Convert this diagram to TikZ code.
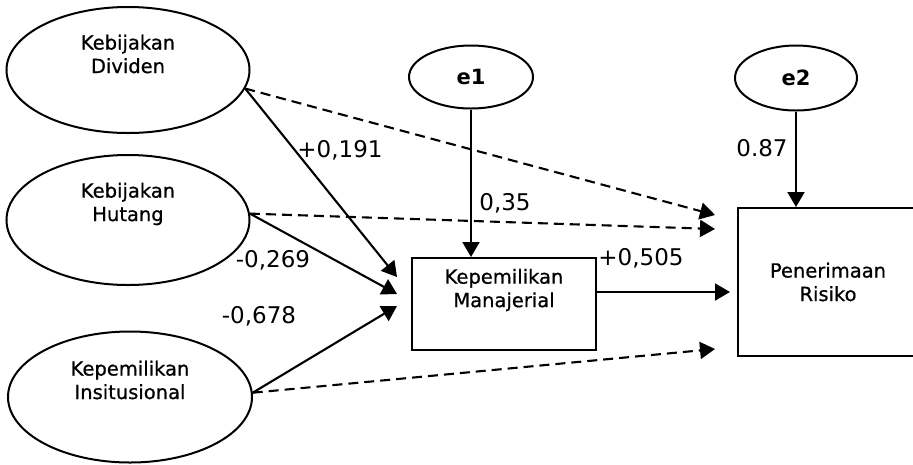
\documentclass[tikz,border=0pt]{standalone}
\usepackage{fontspec}
\setmainfont{DejaVu Sans}
\newfontfamily\lblfont{DejaVu Sans}[FakeBold=0.7,BoldFont={DejaVu Sans}]
\usetikzlibrary{arrows.meta,shapes.geometric,calc}
\begin{document}
\begin{tikzpicture}[x=1pt,y=-1pt,
  lat/.style={draw,ellipse,line width=2pt,inner sep=0pt},
  obs/.style={draw,rectangle,line width=2pt,inner sep=0pt},
  lbl/.style={align=center,font=\lblfont\bfseries\fontsize{19.5}{23.5}\selectfont,inner sep=0pt},
  coef/.style={font=\fontsize{23}{27}\selectfont,inner sep=0pt},
  pth/.style={line width=2.1pt,-{Triangle[length=15pt,width=17pt]}},
  npth/.style={pth,dash pattern=on 10pt off 6pt},
]
\useasboundingbox (0,0) rectangle (913,464);
\clip (0,0) rectangle (913,464);
% latent exogenous
\node[lat,minimum width=243pt,minimum height=126pt] (kd) at (128,70) {};
\node[lbl] (kdt) at (128,54) {Kebijakan\\Dividen};
\node[lat,minimum width=243pt,minimum height=130pt] (kh) at (128,220) {};
\node[lbl] (kht) at (128,204) {Kebijakan\\Hutang};
\node[lat,minimum width=244pt,minimum height=131pt] (ki) at (130,397) {};
\node[lbl] (kit) at (130,380) {Kepemilikan\\Insitusional};
% errors
\node[lat,minimum width=124pt,minimum height=63pt,font=\fontsize{21}{24}\selectfont\bfseries] (e1) at (471,77) {e1};
\node[lat,minimum width=122pt,minimum height=65pt,font=\fontsize{21}{24}\selectfont\bfseries] (e2) at (796,78) {e2};
% observed
\node[obs,minimum width=184pt,minimum height=92pt] (km) at (504,304) {};
\node[lbl] (kmt) at (504,290) {Kepemilikan\\Manajerial};
\node[obs,minimum width=180pt,minimum height=148pt,lbl] (pr) at (828,282) {Penerimaan\\Risiko};
% solid paths
\draw[pth] (kd.-9) -- ($(km.north west)+(-14,20)$);
\draw[pth] (kh.3) -- ($(km.north west)+(-14,37)$);
\draw[pth] (ki.2) -- ($(km.north west)+(-14,49)$);
\draw[pth] (e1.south) -- (e1.south |- km.north);
\draw[pth] (e2.south) -- (e2.south |- pr.north);
\coordinate (kmout) at ([yshift=12pt]km.east);
\draw[pth] (kmout) -- ($(kmout -| pr.west)+(-7,0)$);
% dashed paths
\draw[npth] (kd.-9) -- ($(pr.north west)+(-22,8)$);
\draw[npth] (kh.3) -- ($(pr.north west)+(-22,22)$);
\draw[npth] (ki.2) -- ($(pr.north west)+(-22,142)$);
% coefficients
\node[coef] (c1) at (340,150) {+0,191};
\node[coef] (c2) at (505,203) {0,35};
\node[coef] (c3) at (762,148) {0.87};
\node[coef] (c4) at (273,260) {-0,269};
\node[coef] (c5) at (259,316) {-0,678};
\node[coef] (c6) at (641,258) {+0,505};
\end{tikzpicture}
\end{document}
